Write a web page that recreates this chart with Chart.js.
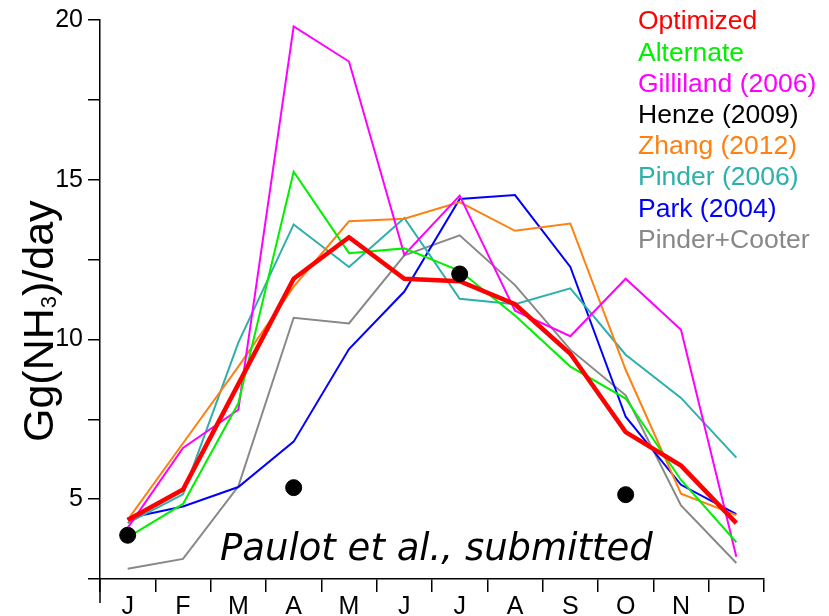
<!DOCTYPE html>
<html>
<head>
<meta charset="utf-8">
<script src="https://cdn.jsdelivr.net/npm/chart.js@4"></script>
<style>
  html, body { margin: 0; padding: 0; background: #fff; }
  #wrap { width: 829px; height: 616px; }
</style>
</head>
<body>
<div id="wrap"><canvas id="chart" width="829" height="616"></canvas></div>
<script>
const months = ['J', 'F', 'M', 'A', 'M', 'J', 'J', 'A', 'S', 'O', 'N', 'D'];

const optimized    = [4.35, 5.3, 8.6, 11.9, 13.2, 11.9, 11.82, 11.1, 9.55, 7.1, 6.05, 4.25];
const alternate    = [3.8, 4.85, 8.0, 15.25, 12.7, 12.85, 12.15, 10.75, 9.15, 8.15, 5.6, 3.65];
const gilliland    = [4.1, 6.6, 7.8, 19.8, 18.7, 12.65, 14.5, 10.9, 10.1, 11.9, 10.3, 3.2];
const henze        = [3.87, null, null, 5.36, null, null, 12.05, null, null, 5.14, null, null];
const zhang        = [4.35, 6.75, 9.15, 11.65, 13.7, 13.78, 14.3, 13.4, 13.63, 9.05, 5.17, 4.5];
const pinder       = [4.25, 5.15, 9.9, 13.6, 12.27, 13.8, 11.27, 11.1, 11.6, 9.52, 8.17, 6.3];
const park         = [4.4, 4.77, 5.38, 6.8, 9.7, 11.5, 14.4, 14.52, 12.27, 7.58, 5.45, 4.53];
const pinderCooter = [2.82, 3.13, 5.4, 10.68, 10.5, 12.63, 13.26, 11.7, 9.68, 8.25, 4.8, 3.0];

const yMin = 2.5, yMax = 20, yStep = 2.5;
const note = 'Paulot et al., submitted';
const yTitle = ['Gg(NH', '3', ')/day']; // middle part is a subscript

const sans = '"Liberation Sans", Arial, Helvetica, sans-serif';

function line(label, data, color, width) {
  return {
    label, data,
    borderColor: color, backgroundColor: color,
    borderWidth: width, pointRadius: 0, tension: 0, fill: false
  };
}

// legend text, y title, annotation: drawn on top of everything
const extras = {
  id: 'extras',
  afterDraw(chart) {
    const ctx = chart.ctx;
    const area = chart.chartArea;
    ctx.save();
    // y axis runs on a little below the x axis
    ctx.strokeStyle = '#000';
    ctx.lineWidth = 1.5;
    ctx.beginPath();
    ctx.moveTo(area.left, area.bottom);
    ctx.lineTo(area.left, area.bottom + 24);
    ctx.stroke();

    ctx.font = '26.5px ' + sans;
    ctx.textBaseline = 'middle';
    ctx.textAlign = 'left';
    chart.data.datasets.forEach((ds, i) => {
      ctx.fillStyle = ds.borderColor;
      ctx.fillText(ds.label, 638, 22 + i * 31.2);
    });

    // rotated y title with a real subscript
    ctx.fillStyle = '#000';
    ctx.textBaseline = 'alphabetic';
    ctx.save();
    ctx.translate(53, 442);
    ctx.rotate(-Math.PI / 2);
    let x = 0;
    ctx.font = '43px ' + sans;
    ctx.fillText(yTitle[0], x, 0);
    x += ctx.measureText(yTitle[0]).width;
    ctx.font = '22px ' + sans;
    ctx.fillText(yTitle[1], x, 3);
    x += ctx.measureText(yTitle[1]).width;
    ctx.font = '43px ' + sans;
    ctx.fillText(yTitle[2], x, 0);
    ctx.restore();

    ctx.font = 'italic 37px "DejaVu Sans", sans-serif';
    ctx.fillStyle = '#000';
    ctx.fillText(note, 220, 560);
    ctx.restore();
  }
};

new Chart(document.getElementById('chart'), {
  type: 'line',
  data: {
    labels: months,
    datasets: [
      line('Optimized', optimized, '#ff0000', 4.5),
      line('Alternate', alternate, '#00f000', 2),
      line('Gilliland (2006)', gilliland, '#ff00ff', 2),
      {
        label: 'Henze (2009)', data: henze,
        borderColor: '#000', backgroundColor: '#000',
        showLine: false, pointRadius: 8, order: -1
      },
      line('Zhang (2012)', zhang, '#ff8010', 2),
      line('Pinder (2006)', pinder, '#2cb0ac', 2),
      line('Park (2004)', park, '#0000ff', 2),
      line('Pinder+Cooter', pinderCooter, '#888888', 2)
    ]
  },
  options: {
    responsive: false,
    animation: false,
    devicePixelRatio: 1,
    layout: { padding: { top: 20, right: 65, left: 0, bottom: 0 } },
    plugins: { legend: { display: false }, tooltip: { enabled: false } },
    scales: {
      x: {
        type: 'category',
        offset: true,
        afterFit: (s) => { s.height = 37; },
        grid: { offset: true, drawOnChartArea: false, drawTicks: true, tickLength: 13, color: '#000', lineWidth: 1.5 },
        border: { display: true, color: '#000', width: 1.5 },
        ticks: { color: '#000', font: { family: sans, size: 25 }, padding: 0, maxRotation: 0, autoSkip: false }
      },
      y: {
        min: yMin, max: yMax,
        afterFit: (s) => { s.width = 100; },
        grid: { drawOnChartArea: false, drawTicks: true, tickLength: 12, color: '#000', lineWidth: 1.5 },
        border: { display: true, color: '#000', width: 1.5 },
        ticks: {
          stepSize: yStep, color: '#000', padding: 5,
          font: { family: sans, size: 25 },
          callback: (v) => (v % 5 === 0 ? v : '')
        },
        title: { display: false }
      }
    }
  },
  plugins: [extras]
});
</script>
</body>
</html>
